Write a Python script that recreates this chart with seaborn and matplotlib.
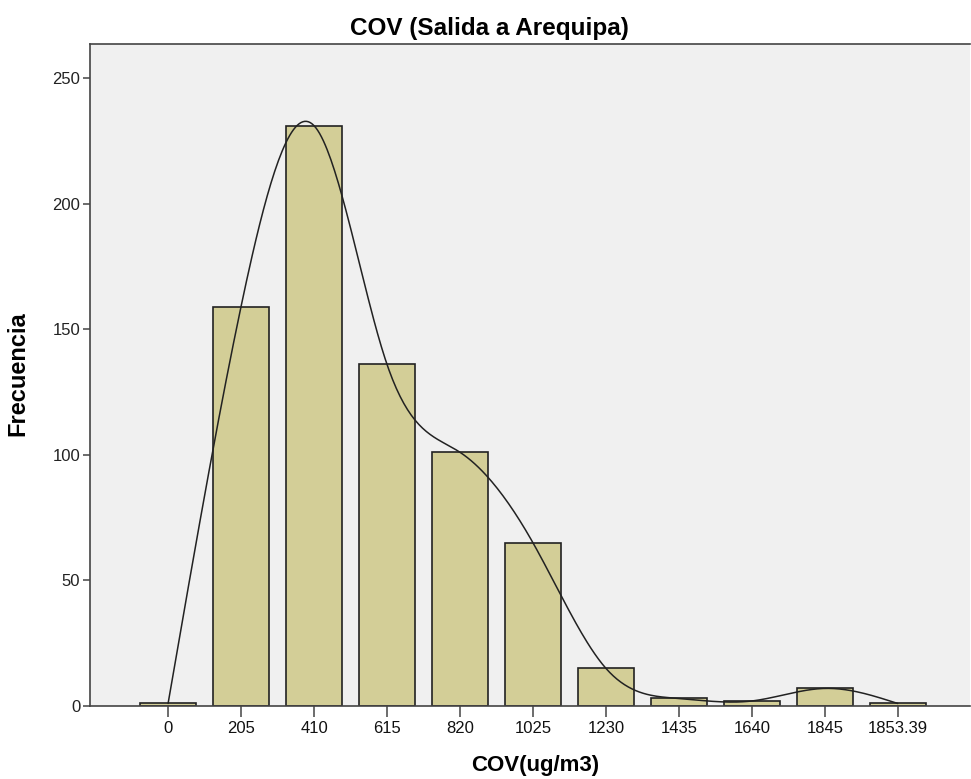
import numpy as np
import pandas as pd
import matplotlib
matplotlib.use("Agg")
import matplotlib.pyplot as plt
import seaborn as sns

categories = ["0", "205", "410", "615", "820", "1025", "1230", "1435", "1640", "1845", "1853.39"]
frequencies = [1, 159, 231, 136, 101, 65, 15, 3, 2, 7, 1]
yticks = [0, 50, 100, 150, 200, 250]

df = pd.DataFrame({"cat": categories, "freq": frequencies})

sns.set_theme(style="white")
plt.rcParams['font.family'] = ['Liberation Sans', 'DejaVu Sans']

fig = plt.figure(figsize=(9.71, 7.79), dpi=100)
ax = fig.add_axes([90/971, 73/779, 880/971, 662/779])
ax.set_facecolor("#F0F0F0")

sns.barplot(data=df, x="cat", y="freq", order=categories, color="#D3CE97",
            edgecolor="#222222", linewidth=1.2, width=0.77, saturation=1, ax=ax)

# smooth curve through bar tops (natural cubic spline)
xs = np.arange(len(frequencies), dtype=float)
ys = np.array(frequencies, dtype=float)
n = len(xs)
h = np.diff(xs)
A = np.zeros((n, n)); b = np.zeros(n)
A[0, 0] = 1; A[-1, -1] = 1
for i in range(1, n - 1):
    A[i, i - 1] = h[i - 1]; A[i, i] = 2 * (h[i - 1] + h[i]); A[i, i + 1] = h[i]
    b[i] = 3 * ((ys[i + 1] - ys[i]) / h[i] - (ys[i] - ys[i - 1]) / h[i - 1])
c = np.linalg.solve(A, b)
xx, yy = [], []
for i in range(n - 1):
    bi = (ys[i + 1] - ys[i]) / h[i] - h[i] * (2 * c[i] + c[i + 1]) / 3
    di = (c[i + 1] - c[i]) / (3 * h[i])
    t = np.linspace(0, h[i], 40)
    xx.extend(xs[i] + t)
    yy.extend(ys[i] + bi * t + c[i] * t**2 + di * t**3)
yy = np.clip(np.array(yy), 0, None)
ax.plot(xx, yy, color="#222222", linewidth=1.1)

ax.set_xlim(-1.07, 10.99)
ax.set_ylim(0, 263.5)
ax.set_yticks(yticks)
ax.set_yticklabels([str(v) for v in yticks])

for s in ax.spines.values():
    s.set_color("#444444"); s.set_linewidth(1.2)
ax.spines["right"].set_visible(False)

ax.tick_params(axis="x", direction="out", length=8, width=1.1, color="#444444",
               labelsize=12, labelcolor="#111111", pad=3, bottom=True)
ax.tick_params(axis="y", direction="out", length=5, width=1.1, color="#444444",
               labelsize=12, labelcolor="#222222", pad=2, left=True)

ax.set_xlabel("")
ax.set_ylabel("")
fig.text(535/971, 1 - 765/779, "COV(ug/m3)", fontsize=16, fontweight="bold",
         color="black", ha="center", va="center")
fig.text(18/971, 1 - 374/779, "Frecuencia", fontsize=17, fontweight="bold",
         color="black", ha="center", va="center", rotation=90)
fig.text(489/971, 1 - 29/779, "COV (Salida a Arequipa)", fontsize=17.5,
         fontweight="bold", color="black", ha="center", va="center")

fig.savefig("out.png", dpi=100, facecolor="white")
